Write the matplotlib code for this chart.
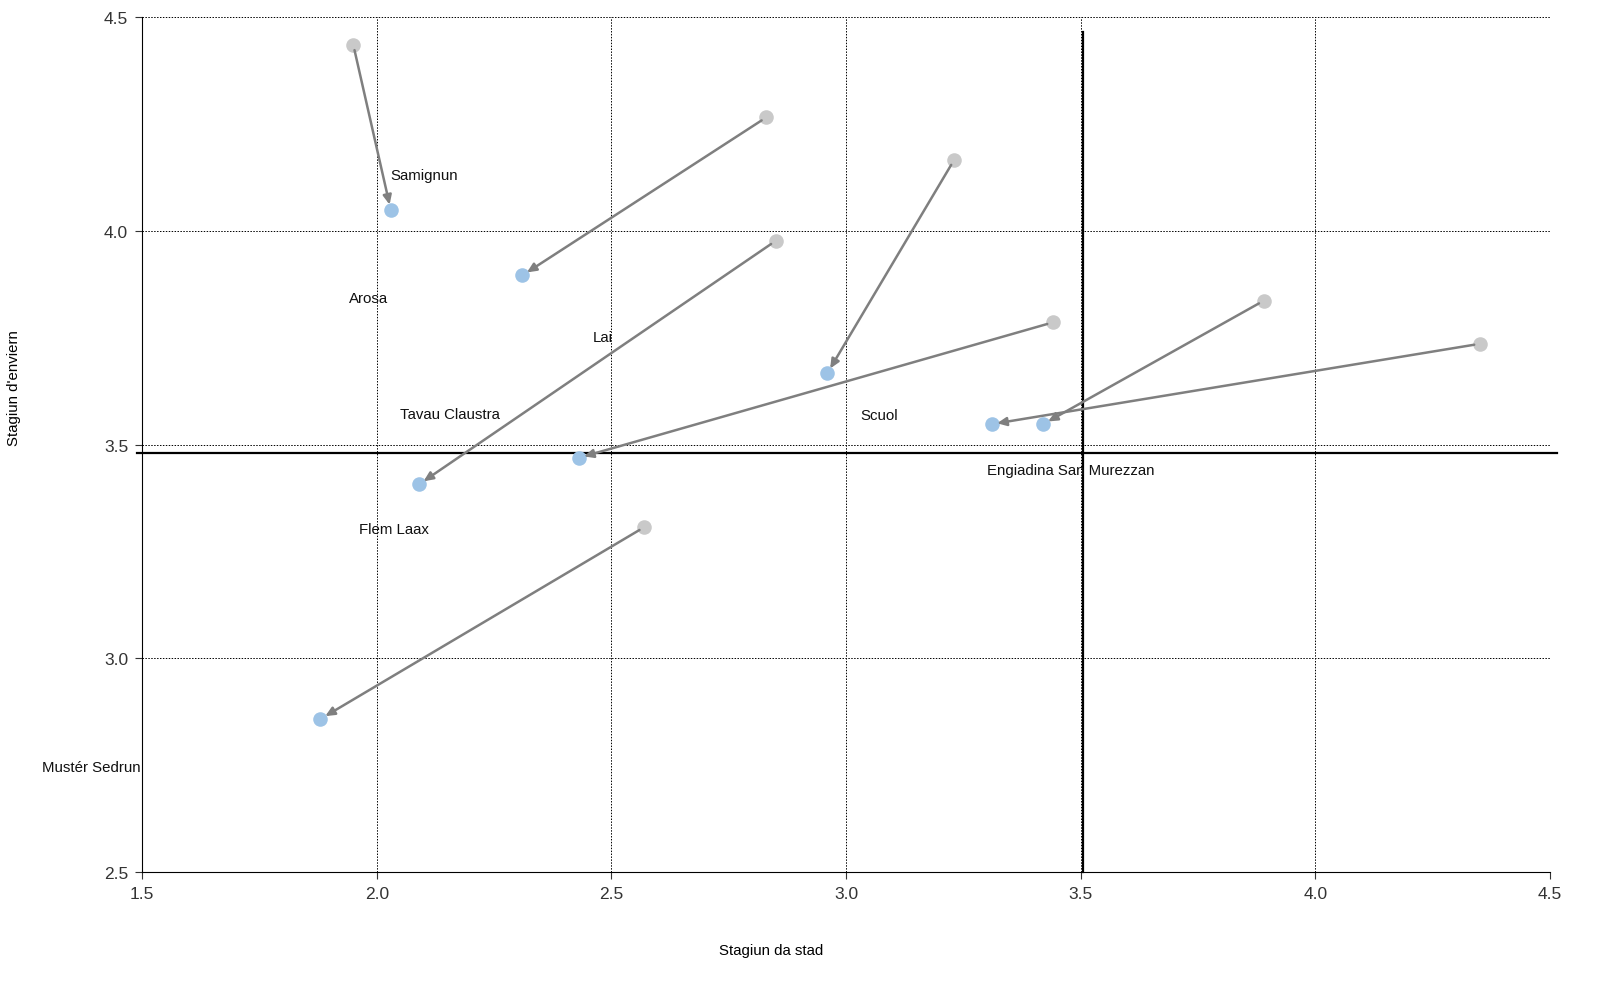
import matplotlib
matplotlib.use('Agg')
import matplotlib.pyplot as plt

plt.rcParams['font.family'] = ['Liberation Sans', 'DejaVu Sans']

# summer (x) / winter (y) scores, before (grey) and after (blue)
x_before = [1.95, 2.83, 2.85, 3.23, 3.44, 3.89, 4.35, 2.57]
y_before = [4.436, 4.266, 3.977, 4.166, 3.786, 3.837, 3.736, 3.307]
x_after = [2.03, 2.31, 2.09, 2.96, 2.43, 3.42, 3.31, 1.88]
y_after = [4.049, 3.896, 3.407, 3.667, 3.469, 3.548, 3.548, 2.858]

# place names and where they sit
names = ['Samignun', 'Arosa', 'Lai', 'Tavau Claustra', 'Scuol',
         'Engiadina San Murezzan', 'Flem Laax', 'Mustér Sedrun']
name_x = [2.03, 1.94, 2.46, 2.05, 3.03, 3.30, 1.963, 1.496]
name_y = [4.132, 3.844, 3.753, 3.572, 3.569, 3.44, 3.302, 2.746]

x_mean = 3.505
y_mean = 3.481

fig = plt.figure(figsize=(16, 10.04), dpi=100)
ax = fig.add_axes([0.0888, 0.1305, 0.8800, 0.8512])

ax.set_xlim(1.5, 4.5)
ax.set_ylim(2.5, 4.5)
ax.set_xticks([1.5, 2.0, 2.5, 3.0, 3.5, 4.0, 4.5])
ax.set_yticks([2.5, 3.0, 3.5, 4.0, 4.5])
ax.grid(True, color='black', linestyle=(0, (1.5, 1.5)), linewidth=0.7)
ax.set_axisbelow(True)
ax.spines['top'].set_visible(False)
ax.spines['right'].set_visible(False)
ax.tick_params(labelsize=12.5, length=5, width=0.8, pad=5, color='#333333', labelcolor='#333333')

# mean lines
ax.plot([1.489, 4.515], [y_mean, y_mean], color='black', lw=1.6, clip_on=False, zorder=2)
ax.plot([x_mean, x_mean], [2.5, 4.465], color='black', lw=1.6, clip_on=False, zorder=2)

ax.scatter(x_before, y_before, s=110, color='#c9c9c9', zorder=3, linewidths=0)
ax.scatter(x_after, y_after, s=110, color='#9dc3e6', zorder=3, linewidths=0)

for i in range(len(x_before)):
    ax.annotate('', xy=(x_after[i], y_after[i]), xytext=(x_before[i], y_before[i]),
                arrowprops=dict(arrowstyle='-|>,head_length=0.55,head_width=0.25',
                                color='#7f7f7f', lw=1.8, shrinkA=4, shrinkB=4),
                zorder=4)

for i in range(len(names)):
    ha = 'right' if names[i] == 'Mustér Sedrun' else 'left'
    ax.text(name_x[i], name_y[i], names[i], fontsize=10.8, ha=ha, va='center', color='#111111')

fig.text(771 / 1600, 1 - 951 / 1004, 'Stagiun da stad', fontsize=10.8, ha='center', va='center')
fig.text(14.5 / 1600, 1 - 388 / 1004, "Stagiun d'enviern", fontsize=10.8, ha='center', va='center',
         rotation=90)

plt.savefig('out.png', dpi=100)
